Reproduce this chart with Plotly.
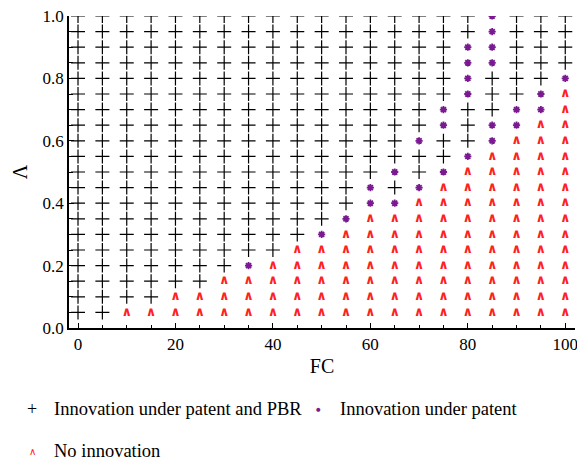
import plotly.graph_objects as go

# Grid of FC values (columns) and Lambda values (rows)
FC = [0, 5, 10, 15, 20, 25, 30, 35, 40, 45, 50, 55, 60, 65, 70, 75, 80, 85, 90, 95, 100]
LAMBDA = [1.00, 0.95, 0.90, 0.85, 0.80, 0.75, 0.70, 0.65, 0.60, 0.55,
          0.50, 0.45, 0.40, 0.35, 0.30, 0.25, 0.20, 0.15, 0.10, 0.05]
# Outcome per cell: '+' innovation under patent and PBR, '*' innovation under patent, '^' no innovation
OUTCOME_ROWS = [
    "+++++++++++++++++*+++",
    "+++++++++++++++++*+++",
    "++++++++++++++++**+++",
    "++++++++++++++++**+++",
    "++++++++++++++++*+++*",
    "++++++++++++++++*++*^",
    "+++++++++++++++*++**^",
    "+++++++++++++++*+**^^",
    "++++++++++++++*++*^^^",
    "++++++++++++++++*^^^^",
    "+++++++++++++*+*^^^^^",
    "++++++++++++*+*^^^^^^",
    "++++++++++++**^^^^^^^",
    "+++++++++++*^^^^^^^^^",
    "++++++++++*^^^^^^^^^^",
    "+++++++++^^^^^^^^^^^^",
    "+++++++*^^^^^^^^^^^^^",
    "++++++^^^^^^^^^^^^^^^",
    "++++^^^^^^^^^^^^^^^^^",
    "++^^^^^^^^^^^^^^^^^^^",
]
LABELS = {"+": "Innovation under patent and PBR",
          "*": "Innovation under patent",
          "^": "No innovation"}
X_TICKS = [0, 20, 40, 60, 80, 100]
Y_TICKS = [0.0, 0.2, 0.4, 0.6, 0.8, 1.0]

pts = {"+": ([], []), "*": ([], []), "^": ([], [])}
for lam, row in zip(LAMBDA, OUTCOME_ROWS):
    for fc, code in zip(FC, row):
        pts[code][0].append(fc)
        pts[code][1].append(lam)

PURPLE = "#7a1a90"
RED = "#ff2020"
SERIF = "Liberation Serif"

fig = go.Figure()
fig.add_trace(go.Scatter(
    x=pts["+"][0], y=pts["+"][1], mode="markers", name=LABELS["+"],
    marker=dict(symbol="cross-thin", size=10, color="black", line=dict(color="black", width=1.2)),
    cliponaxis=True, showlegend=False))
fig.add_trace(go.Scatter(
    x=pts["*"][0], y=pts["*"][1], mode="markers", name=LABELS["*"],
    marker=dict(symbol="asterisk", size=6, color=PURPLE, line=dict(color=PURPLE, width=1.8)),
    cliponaxis=True, showlegend=False))
fig.add_trace(go.Scatter(
    x=pts["^"][0], y=pts["^"][1], mode="text", name=LABELS["^"],
    text=["\u2227"] * len(pts["^"][0]), textposition="middle center",
    textfont=dict(family="DejaVu Sans", size=13, color=RED, weight="bold"),
    cliponaxis=True, showlegend=False))

# manual legend (paper coords relative to plot area 69..575 x 16..328)
def px2paper(px, py):
    return (px - 69) / 506.0, (328 - py) / 312.0

leg = [
    (32, 409, "+", "black", SERIF, 18, LABELS["+"]),
    (318, 409, "\u2219", PURPLE, "DejaVu Sans", 14, LABELS["*"]),
    (32, 451, "\u2227", RED, "DejaVu Sans", 10, LABELS["^"]),
]
for sx, sy, sym, col, fam, fs, lab in leg:
    xp, yp = px2paper(sx, sy)
    xt, _ = px2paper(sx + 20, sy)
    fig.add_annotation(x=xp, y=yp, xref="paper", yref="paper", text=sym,
                       showarrow=False, font=dict(family=fam, size=fs, color=col),
                       xanchor="center", yanchor="middle")
    fig.add_annotation(x=xt, y=yp, xref="paper", yref="paper", text=lab,
                       showarrow=False, font=dict(family=SERIF, size=18.5, color="black"),
                       xanchor="left", yanchor="middle")

fig.update_layout(
    width=577, height=461,
    margin=dict(l=69, r=2, t=16, b=133),
    plot_bgcolor="white", paper_bgcolor="white",
    font=dict(family=SERIF, size=17, color="black"),
    showlegend=False,
)
fig.update_xaxes(
    range=[-1.85, 102], showgrid=False, zeroline=False, automargin=False,
    showline=True, linecolor="black", linewidth=1.5,
    tickmode="array", tickvals=X_TICKS, ticks="inside", ticklen=5, tickwidth=1.2, tickcolor="black",
    minor=dict(dtick=5, tick0=0, ticks="inside", ticklen=3, tickwidth=1, tickcolor="black"),
    tickfont=dict(family=SERIF, size=17), ticklabeloverflow="allow",
    title=dict(text="FC", font=dict(family=SERIF, size=20), standoff=6),
)
fig.update_yaxes(
    range=[0, 1.0], showgrid=False, zeroline=False, automargin=False,
    showline=True, linecolor="black", linewidth=1.5,
    tickmode="array", tickvals=Y_TICKS, tickformat=".1f",
    ticks="inside", ticklen=5, tickwidth=1.2, tickcolor="black",
    minor=dict(dtick=0.05, tick0=0, ticks="inside", ticklen=4, tickwidth=1, tickcolor="black"),
    tickfont=dict(family=SERIF, size=17), ticklabeloverflow="allow",
    title=dict(text="\u039b", font=dict(family=SERIF, size=20), standoff=10),
)

fig.write_html("out.html", config={"displayModeBar": False},
               post_script="document.body.style.margin='0';document.body.style.overflow='hidden';")
